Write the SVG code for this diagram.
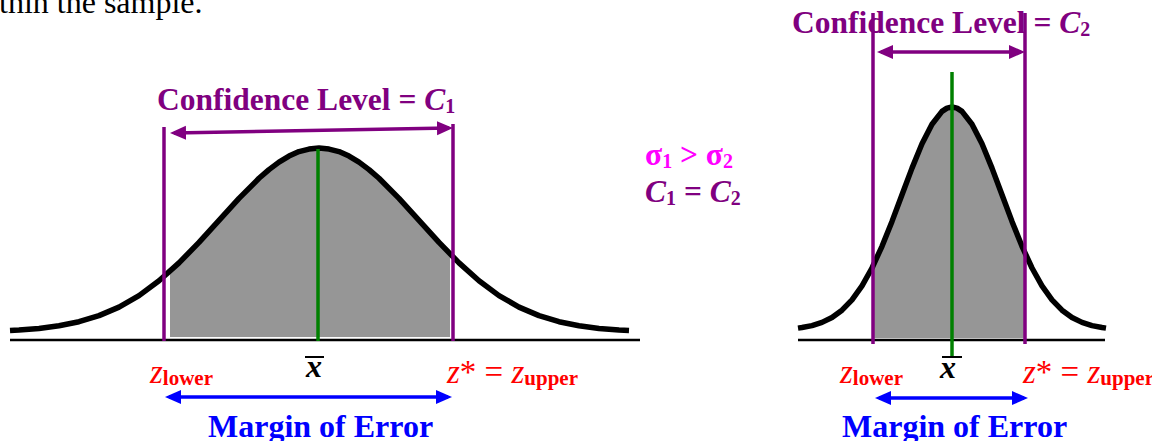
<svg xmlns="http://www.w3.org/2000/svg" width="1152" height="441" viewBox="0 0 1152 441">
<style>
text{font-family:"Liberation Serif","Times New Roman",serif}
.b{font-weight:bold}
.it{font-style:italic}
.pur{fill:#800080}
.red{fill:#ff0000}
.blu{fill:#0000ff}
.mag{fill:#ff00ff}
.curve{fill:none;stroke:#000;stroke-width:5.5;stroke-linejoin:round;stroke-linecap:butt}
.shade{fill:#969696;stroke:none}
.axis{stroke:#000;stroke-width:2.5}
.bound{stroke:#800080;stroke-width:3.5}
.mean{stroke:#008000;stroke-width:3.5}
.parr{stroke:#800080;stroke-width:3.5;fill:none;marker-start:url(#ph);marker-end:url(#ph)}
.barr{stroke:#0000ff;stroke-width:3.5;fill:none;marker-start:url(#bh);marker-end:url(#bh)}
</style>
<defs>
<marker id="ph" markerUnits="userSpaceOnUse" markerWidth="18" markerHeight="16" refX="12" refY="7" orient="auto-start-reverse"><path d="M0,0 L16,7 L0,14 z" fill="#800080"/></marker>
<marker id="bh" markerUnits="userSpaceOnUse" markerWidth="18" markerHeight="16" refX="12" refY="7" orient="auto-start-reverse"><path d="M0,0 L16,7 L0,14 z" fill="#0000ff"/></marker>
</defs>
<rect width="1152" height="441" fill="#fff"/>
<text id="caption-top" x="-33" y="13" font-size="32">within the sample.</text>

<g id="left-distribution">
<polygon class="shade" points="170,337 170,271.4 179,262.9 199,242.4 219,220.4 239,198.4 259,178.3 269,169.6 279,162.1 289,156.1 299,151.6 309,149.1 319,148 329,149.1 339,151.6 349,156.1 359,162.1 369,169.6 379,178.3 399,198.4 419,220.4 439,242.4 450,254 450,337"/>
<line class="axis" x1="10" y1="340" x2="640" y2="340"/>
<polyline class="curve" points="10,330.5 19,330 39,328.4 59,325.7 79,321.7 99,315.6 119,307.1 139,295.6 159,280.8 179,262.9 199,242.4 219,220.4 239,198.4 259,178.3 269,169.6 279,162.1 289,156.1 299,151.6 309,149.1 319,148 329,149.1 339,151.6 349,156.1 359,162.1 369,169.6 379,178.3 399,198.4 419,220.4 439,242.4 459,262.9 479,280.8 499,295.6 519,307.1 539,315.6 559,321.7 579,325.7 599,328.4 619,330 629,330.5"/>
<line class="bound" x1="164" y1="127" x2="164" y2="341"/>
<line class="bound" x1="453" y1="124" x2="453" y2="341"/>
<line class="mean" x1="318" y1="149" x2="318" y2="341"/>
</g>

<g id="right-distribution">
<polygon class="shade" points="873,338 873,266 882,246.3 892,221.4 902,194.7 912,168.1 922,143.8 932,124.2 942,111.4 947,108.1 952,107 957,108.1 962,111.4 972,124.2 982,143.8 992,168.1 1002,194.7 1012,221.4 1022,246.3 1025,253.3 1025,338"/>
<line class="axis" x1="798" y1="340" x2="1105" y2="340" stroke-width="2"/>
<polyline class="curve" points="798,328.1 802,327.5 812,325.6 822,322.4 832,317.5 842,310.2 852,299.8 862,285.9 872,268 882,246.3 892,221.4 902,194.7 912,168.1 922,143.8 932,124.2 942,111.4 947,108.1 952,107 957,108.1 962,111.4 972,124.2 982,143.8 992,168.1 1002,194.7 1012,221.4 1022,246.3 1032,268 1042,285.9 1052,299.8 1062,310.2 1072,317.5 1082,322.4 1092,325.6 1102,327.5 1106,328.1"/>
<line class="bound" x1="873" y1="13" x2="873" y2="344"/>
<line class="bound" x1="1025" y1="13" x2="1025" y2="344"/>
<line class="mean" x1="952" y1="72" x2="952" y2="357"/>
</g>

<g id="connectors">
<line class="parr" x1="174" y1="132.9" x2="449" y2="128.1"/>
<line class="parr" x1="881" y1="52" x2="1021" y2="52"/>
<line class="barr" x1="169" y1="397" x2="448" y2="397"/>
<line class="barr" x1="879" y1="398" x2="1024" y2="398"/>
</g>

<g id="label-left-confidence">
<text class="b pur" x="157" y="110" font-size="31.5">Confidence Level = <tspan class="it">C</tspan><tspan font-size="20" dy="3">1</tspan></text>
</g>
<g id="label-right-confidence">
<text class="b pur" x="792" y="33" font-size="31.5">Confidence Level = <tspan class="it">C</tspan><tspan font-size="20" dy="3">2</tspan></text>
</g>

<g id="label-compare">
<text class="b mag" x="645" y="165" font-size="31.5">σ<tspan font-size="20" dy="3">1</tspan><tspan dy="-3"> &gt; σ</tspan><tspan font-size="20" dy="3">2</tspan></text>
<text class="b pur" x="645" y="202" font-size="31.5"><tspan class="it">C</tspan><tspan font-size="20" dy="3">1</tspan><tspan dy="-3"> = </tspan><tspan class="it">C</tspan><tspan font-size="20" dy="3">2</tspan></text>
</g>

<g id="label-left-axis">
<text class="red" x="150" y="383" font-size="33"><tspan class="it">z</tspan><tspan class="b" font-size="21" dy="2">lower</tspan></text>
<line x1="305" y1="357" x2="324" y2="357" stroke="#000" stroke-width="2"/>
<text class="b it" x="306" y="377" font-size="32">x</text>
<text class="red" x="447" y="383" font-size="33"><tspan class="it">z</tspan>* = <tspan class="it">z</tspan><tspan class="b" font-size="21" dy="2">upper</tspan></text>
<text class="b blu" x="208" y="437" font-size="32">Margin of Error</text>
</g>

<g id="label-right-axis">
<text class="red" x="840" y="383" font-size="33"><tspan class="it">z</tspan><tspan class="b" font-size="21" dy="2">lower</tspan></text>
<line x1="942" y1="357" x2="962" y2="357" stroke="#000" stroke-width="2"/>
<text class="b it" x="940" y="378" font-size="32">x</text>
<text class="red" x="1023" y="383" font-size="33"><tspan class="it">z</tspan>* = <tspan class="it">z</tspan><tspan class="b" font-size="21" dy="2">upper</tspan></text>
<text class="b blu" x="842" y="437" font-size="32">Margin of Error</text>
</g>
</svg>
